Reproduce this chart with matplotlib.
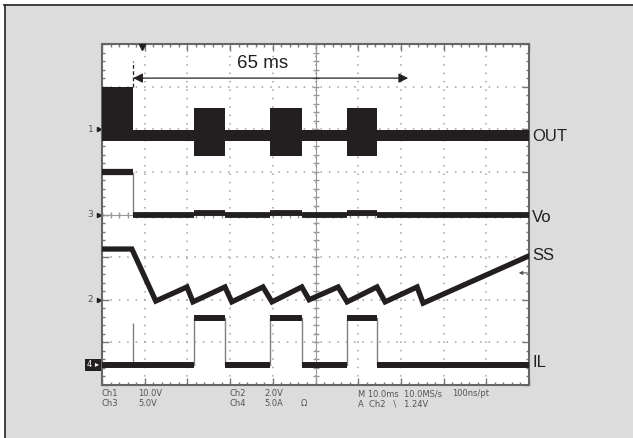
import numpy as np
import matplotlib
matplotlib.use("Agg")
import matplotlib.pyplot as plt
from matplotlib.patches import Rectangle
from matplotlib.lines import Line2D
from matplotlib.transforms import blended_transform_factory

# time in ms (10 ms/div), vertical in divisions (0..8)
soft_end = 7.2                      # end of soft-start / fault
burst_start = [21.5, 39.3, 57.4]    # hiccup restart bursts
burst_end = [28.8, 46.8, 64.5]

# OUT (ch1) envelope levels
out_first_hi = 7.0
out_base_hi, out_base_lo = 5.98, 5.72
out_burst_hi, out_burst_lo = 6.5, 5.37

# Vo (ch3)
vo_before = 5.0
vo_after = 3.98
vo_burst = 4.03

# SS (ch2) corner points
ss_t = [0, 7.0, 12.6, 19.9, 21.3, 28.8, 30.4, 37.7, 39.8, 46.8, 48.5,
        55.3, 57.4, 64.4, 66.3, 73.8, 75.2, 100]
ss_v = [3.19, 3.19, 1.97, 2.30, 1.95, 2.30, 1.95, 2.30, 1.95, 2.30, 2.0,
        2.30, 1.95, 2.30, 1.95, 2.30, 1.92, 3.03]

# IL (ch4)
il_low, il_high = 0.47, 1.57
il_spike_t, il_spike_v = 7.3, 1.45

# labels
trace_names = ["OUT", "Vo", "SS", "IL"]
trace_label_y = [5.84, 3.94, 3.03, 0.52]
ch_marks = ["1", "3", "2"]
ch_mark_y = [6.0, 4.0, 2.0]
ch4_mark_y = 0.47

W, H = 633, 438
ink = "#231f20"
edge = "#808080"

fig = plt.figure(figsize=(W / 100, H / 100), dpi=100)
fig.patch.set_facecolor("#dcdcdc")
fig.add_artist(Rectangle((0, 1 - 4 / H), 1, 4 / H, transform=fig.transFigure,
                         facecolor="white", edgecolor="none"))
fig.add_artist(Rectangle((0, 0), 3.5 / W, 1, transform=fig.transFigure,
                         facecolor="white", edgecolor="none"))
fig.add_artist(Line2D([4 / W, 1], [1 - 5 / H, 1 - 5 / H], transform=fig.transFigure,
                      color="#333333", lw=1.3))
fig.add_artist(Line2D([4.5 / W, 4.5 / W], [0, 1 - 5 / H], transform=fig.transFigure,
                      color="#333333", lw=1.3))

ax = fig.add_axes([102 / W, 53 / H, 427 / W, 341 / H])
ax.set_facecolor("white")
ax.set_xlim(0, 100)
ax.set_ylim(0, 8)
ax.set_xticks(np.arange(0, 101, 10))
ax.set_xticks(np.arange(0, 101, 2), minor=True)
ax.set_yticks(np.arange(0, 9, 1))
ax.set_yticks(np.arange(0, 8.01, 0.2), minor=True)
ax.tick_params(which="both", direction="in", top=True, right=True,
               labelbottom=False, labelleft=False, color="#777777")
ax.tick_params(which="major", length=5, width=1)
ax.tick_params(which="minor", length=2.5, width=1)
ax.grid(which="major", color="#a0a0a0", linestyle=(0, (1, 4.5)), linewidth=1.1)
for s in ax.spines.values():
    s.set_color("#666666")
    s.set_linewidth(1.5)

# centre cross with small ticks
ax.axvline(50, color="#999999", lw=0.8, zorder=1.6)
ax.axhline(4, color="#999999", lw=0.8, zorder=1.6)
ax.plot(np.full(41, 50), np.arange(0, 8.01, 0.2), ls="none", marker="_",
        ms=5, color="#999999", zorder=1.6)
ax.plot(np.arange(0, 100.1, 2), np.full(51, 4), ls="none", marker="|",
        ms=5, color="#999999", zorder=1.6)

# OUT: filled switching envelope
out_t = [0, soft_end]
out_hi = [out_first_hi]
out_lo = [out_base_lo]
for s, e in zip(burst_start, burst_end):
    out_t += [s, e]
    out_hi += [out_base_hi, out_burst_hi]
    out_lo += [out_base_lo, out_burst_lo]
out_t.append(100)
out_hi.append(out_base_hi)
out_lo.append(out_base_lo)
out_hi.append(out_hi[-1])
out_lo.append(out_lo[-1])
ax.fill_between(out_t, out_lo, out_hi, step="post", color=ink, lw=0, zorder=3)

# Vo
ax.vlines(soft_end, vo_after, vo_before, color=edge, lw=1, zorder=3)
ax.hlines(vo_before, 0, soft_end, color=ink, lw=4.5, zorder=3)
vo_t = [soft_end]
vo_lv = []
for s, e in zip(burst_start, burst_end):
    vo_t += [s, e]
    vo_lv += [vo_after, vo_burst]
vo_t.append(100)
vo_lv.append(vo_after)
ax.hlines(vo_lv, vo_t[:-1], vo_t[1:], color=ink, lw=4.2, zorder=3)

# SS
ax.plot(ss_t, ss_v, color=ink, lw=3.8, solid_joinstyle="miter", zorder=3)

# IL
il_t = [0]
il_lv = []
for s, e in zip(burst_start, burst_end):
    il_t += [s, e]
    il_lv += [il_low, il_high]
il_t.append(100)
il_lv.append(il_low)
ax.step(il_t, il_lv + [il_lv[-1]], where="post", color=edge, lw=1, zorder=3)
ax.vlines(il_spike_t, il_low, il_spike_v, color=edge, lw=1, zorder=3)
ax.hlines(il_lv, il_t[:-1], il_t[1:], color=ink, lw=4.3, zorder=3)

# 65 ms annotation
ax.vlines(soft_end + 0.1, out_first_hi, 7.6, color=ink, lw=0.9,
          linestyles=(0, (3, 2)), zorder=4)
ax.annotate("", xy=(soft_end + 0.1, 7.2), xytext=(71.7, 7.2),
            arrowprops=dict(arrowstyle="<|-|>", color=ink, lw=0.9,
                            mutation_scale=14, shrinkA=0, shrinkB=0))
ax.text(37.7, 7.55, "65 ms", ha="center", va="center", fontsize=13.5,
        color=ink, family="Liberation Sans")

# trigger position marker
ax.plot([9.4], [7.93], marker="v", ms=5, color=ink, clip_on=False, zorder=5)

# ch2 trigger level arrow at right edge
ax.annotate("", xy=(97.6, 2.63), xytext=(99.6, 2.63),
            arrowprops=dict(arrowstyle="-|>", color="#555555", lw=0.8,
                            mutation_scale=5, shrinkA=0, shrinkB=0))

# right-side trace names
tr = blended_transform_factory(ax.transAxes, ax.transData)
for name, y in zip(trace_names, trace_label_y):
    ax.text(1.008, y, name, transform=tr, ha="left", va="center",
            fontsize=12, color=ink, family="Liberation Sans")

# left channel ground markers
for m, y in zip(ch_marks, ch_mark_y):
    ax.text(-0.02, y, m, transform=tr, ha="right", va="center",
            fontsize=6.5, color="#555555")
    ax.plot([-0.008], [y], transform=tr, marker=">", ms=3, color=ink,
            clip_on=False)
ax.text(-0.006, ch4_mark_y, "4 \u25b8", transform=tr, ha="right", va="center",
        fontsize=6, color="white",
        bbox=dict(facecolor=ink, edgecolor="none", pad=1.3))

# scope readout text
def px(x, y):
    return x / W, 1 - y / H

readout = [
    (102, 394, "Ch1"), (138, 394, "10.0V"),
    (102, 404, "Ch3"), (138, 404, "5.0V"),
    (230, 394, "Ch2"), (264, 394, "2.0V"),
    (230, 404, "Ch4"), (264, 404, "5.0A"), (301, 404, "\u03a9"),
    (358, 394, "M 10.0ms  10.0MS/s"), (452, 394, "100ns/pt"),
    (358, 404, "A  Ch2   \\   1.24V"),
]
for x, y, s in readout:
    fig.text(*px(x, y), s, ha="left", va="center", fontsize=6,
             color="#555555")

fig.savefig("out.png", dpi=100, facecolor=fig.get_facecolor())
